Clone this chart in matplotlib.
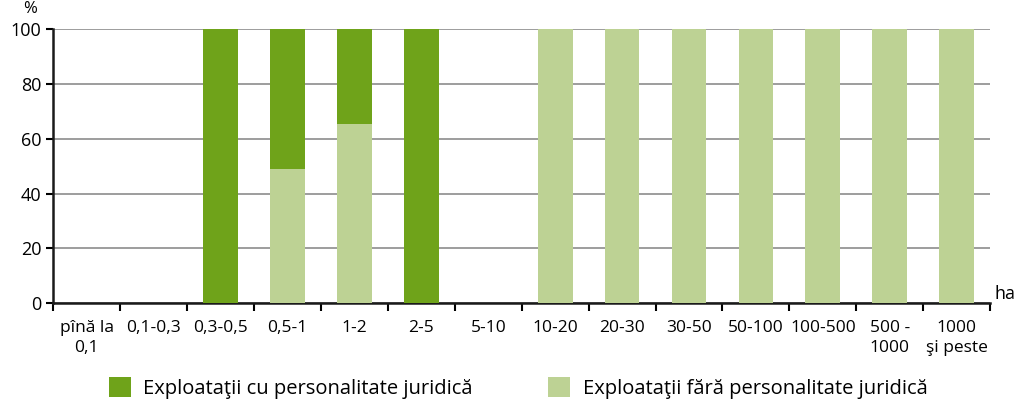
import numpy as np
import matplotlib
matplotlib.use('Agg')
import matplotlib.pyplot as plt

plt.rcParams['font.family'] = ['Open Sans', 'DejaVu Sans']

# Date: structura exploatatiilor pe grupe de marime (%)
categorii = ['pînă la\n0,1', '0,1-0,3', '0,3-0,5', '0,5-1', '1-2', '2-5', '5-10',
             '10-20', '20-30', '30-50', '50-100', '100-500', '500 -\n1000', '1000\nşi peste']
fara_pj = [0, 0, 0, 49, 65.4, 0, 0, 100, 100, 100, 100, 100, 100, 100]
cu_pj = [0, 0, 100, 51, 34.6, 100, 0, 0, 0, 0, 0, 0, 0, 0]

col_cu = '#6fa31a'
col_fara = '#bdd294'

fig = plt.figure(figsize=(10.26, 3.99), dpi=100)
ax = fig.add_axes([0.052, 0.24, 0.913, 0.687])

x = np.arange(len(categorii))
ax.bar(x, fara_pj, width=0.52, color=col_fara, zorder=3,
       label='Exploataţii fără personalitate juridică')
ax.bar(x, cu_pj, width=0.52, bottom=fara_pj, color=col_cu, zorder=3,
       label='Exploataţii cu personalitate juridică')

ax.set_xlim(-0.5, len(categorii) - 0.5)
ax.set_ylim(0, 100)
ax.set_yticks(range(0, 101, 20))
ax.yaxis.grid(True, color='#8c8c8c', linewidth=1.2, zorder=0)
ax.tick_params(axis='y', labelsize=13, length=5, width=1.5, direction='out')

# tick-uri intre categorii, etichete centrate
ax.set_xticks(np.arange(len(categorii) + 1) - 0.5)
ax.set_xticklabels([])
ax.set_xticks(x, minor=True)
ax.set_xticklabels(categorii, minor=True, fontsize=12.5, linespacing=1.3)
ax.tick_params(axis='x', which='major', length=6, width=1.5)
ax.tick_params(axis='x', which='minor', length=0, pad=12)

for s in ['top', 'right']:
    ax.spines[s].set_visible(False)
for s in ['left', 'bottom']:
    ax.spines[s].set_linewidth(1.8)
    ax.spines[s].set_color('#1a1a1a')

ax.text(-0.025, 1.045, '%', transform=ax.transAxes, fontsize=12, ha='center', va='bottom')
ax.text(1.005, 0.0, 'ha', transform=ax.transAxes, fontsize=13, ha='left', va='bottom')

h, l = ax.get_legend_handles_labels()
fig.legend(h[::-1], l[::-1], loc='lower center', bbox_to_anchor=(0.505, -0.045), ncol=2,
           frameon=False, fontsize=14.5, handlelength=1.1, handleheight=1.1,
           columnspacing=3.75, handletextpad=0.6)

fig.savefig('out.png', dpi=100)
